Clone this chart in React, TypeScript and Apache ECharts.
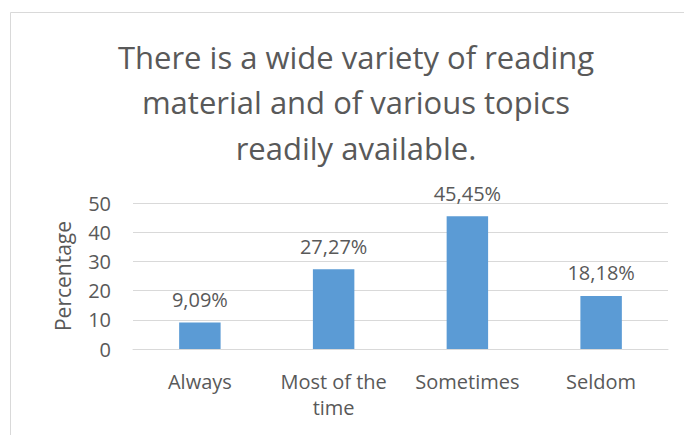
import React, { useEffect, useRef } from "react";
import * as echarts from "echarts";

const titleLines = ["There is a wide variety of reading", "material and of various topics", "readily available."];
const categories = ["Always", "Most of the\ntime", "Sometimes", "Seldom"];
const values = [9.09, 27.27, 45.45, 18.18];
const valueLabels = ["9,09%", "27,27%", "45,45%", "18,18%"];
const yMin = 0;
const yMax = 50;
const yStep = 10;
const yAxisName = "Percentage";

const FONT = "'Open Sans', 'Noto Sans', sans-serif";
const TEXT = "#595959";

export default function App() {
  const ref = useRef<HTMLDivElement>(null);
  useEffect(() => {
    const chart = echarts.init(ref.current!, undefined, { renderer: "svg" });
    chart.setOption({
      animation: false,
      backgroundColor: "#ffffff",
      textStyle: { fontFamily: FONT, color: TEXT },
      title: {
        text: titleLines.join("\n"),
        left: 351,
        top: 29,
        textAlign: "center",
        textStyle: { fontFamily: FONT, fontSize: 31, fontWeight: "normal", color: TEXT, lineHeight: 45.5 },
      },
      graphic: [
        {
          type: "rect",
          shape: { x: 10.5, y: 12.5, width: 720, height: 460 },
          style: { fill: "none", stroke: "#d9d9d9", lineWidth: 1 },
          silent: true,
        },
      ],
      grid: { left: 133, right: 16, top: 203, bottom: 86, containLabel: false },
      xAxis: {
        type: "category",
        data: categories,
        axisLine: { show: true, lineStyle: { color: "#d9d9d9" } },
        axisTick: { show: false },
        axisLabel: { color: TEXT, fontFamily: FONT, fontSize: 20, lineHeight: 26, margin: 19, interval: 0 },
      },
      yAxis: {
        type: "value",
        min: yMin,
        max: yMax,
        interval: yStep,
        name: yAxisName,
        nameLocation: "middle",
        nameGap: 60,
        nameRotate: 90,
        nameTextStyle: { color: TEXT, fontFamily: FONT, fontSize: 21 },
        axisLine: { show: false },
        axisTick: { show: false },
        axisLabel: { color: TEXT, fontFamily: FONT, fontSize: 20, margin: 22 },
        splitLine: { lineStyle: { color: "#d9d9d9", width: 1 } },
      },
      series: [
        {
          type: "bar",
          data: values,
          barWidth: "31%",
          itemStyle: { color: "#5b9bd5" },
          label: {
            show: true,
            position: "top",
            distance: 13,
            color: TEXT,
            fontFamily: FONT,
            fontSize: 20,
            formatter: (p: any) => valueLabels[p.dataIndex],
          },
        },
      ],
    });
    return () => chart.dispose();
  }, []);
  return <div ref={ref} style={{ position: "fixed", left: 0, top: 0, width: 684, height: 435 }} />;
}
